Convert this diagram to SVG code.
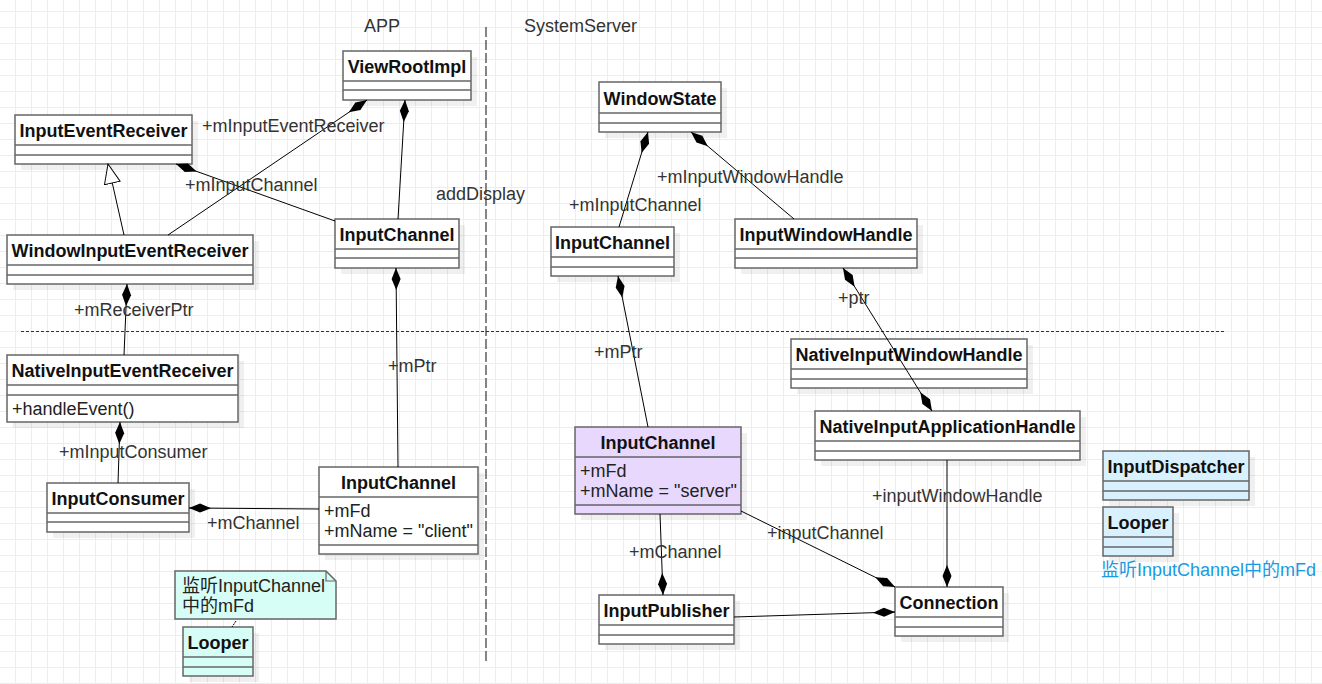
<svg xmlns="http://www.w3.org/2000/svg" width="1322" height="684" viewBox="0 0 1322 684">
<defs>
<pattern id="grid" patternUnits="userSpaceOnUse" x="15" y="11" width="16" height="16">
<path d="M0,0.5 H16 M0.5,0 V16" fill="none" stroke="#ededed" stroke-width="1"/>
</pattern>
<marker id="dia" markerUnits="userSpaceOnUse" markerWidth="24" markerHeight="12" refX="22" refY="5" orient="auto-start-reverse" viewBox="0 0 24 12">
<path d="M0,5 L11,0.5 L22,5 L11,9.5 Z" fill="#000"/>
</marker>
<marker id="tri" markerUnits="userSpaceOnUse" markerWidth="22" markerHeight="18" refX="20" refY="8.5" orient="auto" viewBox="0 0 22 18">
<path d="M0.5,0.5 L20,8.5 L0.5,16.5 Z" fill="#fff" stroke="#000" stroke-width="1"/>
</marker>
</defs>
<style>
.box{fill:#fff;stroke:#666;stroke-width:1.5}
.sep{stroke:#666;stroke-width:1.5}
.sh{fill:#000;opacity:.06}
.t{font-family:"Liberation Sans",Arial,sans-serif;font-size:18px;font-weight:bold;fill:#111;text-anchor:middle}
.a{font-family:"Liberation Sans",Arial,sans-serif;font-size:18px;fill:#222}
.l{font-family:"Liberation Sans",Arial,sans-serif;font-size:18px;fill:#333}
.cn{fill:none;stroke:#000;stroke-width:1}
.cy{fill:#d6fdf6}
.bl{fill:#d9f0fe}
.pu{fill:#e8d8fd}
.cjk{font-family:"Liberation Sans","Noto Sans CJK SC",sans-serif;font-size:18px}
</style>
<rect width="1322" height="684" fill="#fff"/>
<rect width="1322" height="684" fill="url(#grid)"/>

<!-- separators -->
<line x1="486" y1="27" x2="486" y2="664" stroke="#444" stroke-width="1.3" stroke-dasharray="10 3"/>
<line x1="21" y1="331.5" x2="1224" y2="331.5" stroke="#333" stroke-width="1" stroke-dasharray="3 2"/>
<text class="l" x="364" y="32">APP</text>
<text class="l" x="524" y="32">SystemServer</text>
<text class="l" x="436" y="200">addDisplay</text>

<!-- nodes -->
<g id="ViewRootImpl">
<rect class="sh" x="349" y="57" width="128" height="49"/>
<rect class="box" x="343" y="51" width="128" height="49"/>
<line class="sep" x1="343" y1="81" x2="471" y2="81"/><line class="sep" x1="343" y1="90" x2="471" y2="90"/>
<text class="t" x="407" y="73">ViewRootImpl</text>
</g>
<g id="InputEventReceiver">
<rect class="sh" x="21" y="121" width="177" height="49"/>
<rect class="box" x="15" y="115" width="177" height="49"/>
<line class="sep" x1="15" y1="145" x2="192" y2="145"/><line class="sep" x1="15" y1="155" x2="192" y2="155"/>
<text class="t" x="103.5" y="137">InputEventReceiver</text>
</g>
<g id="WindowInputEventReceiver">
<rect class="sh" x="13" y="241" width="246" height="49"/>
<rect class="box" x="7" y="235" width="246" height="49"/>
<line class="sep" x1="7" y1="265" x2="253" y2="265"/><line class="sep" x1="7" y1="275" x2="253" y2="275"/>
<text class="t" x="130" y="257">WindowInputEventReceiver</text>
</g>
<g id="InputChannelApp">
<rect class="sh" x="341" y="225" width="124" height="49"/>
<rect class="box" x="335" y="219" width="124" height="49"/>
<line class="sep" x1="335" y1="249" x2="459" y2="249"/><line class="sep" x1="335" y1="258" x2="459" y2="258"/>
<text class="t" x="397" y="241">InputChannel</text>
</g>
<g id="NativeInputEventReceiver">
<rect class="sh" x="13" y="361" width="231" height="67"/>
<rect class="box" x="7" y="355" width="231" height="67"/>
<line class="sep" x1="7" y1="385" x2="238" y2="385"/><line class="sep" x1="7" y1="395" x2="238" y2="395"/>
<text class="t" x="122.5" y="377">NativeInputEventReceiver</text>
<text class="a" x="12" y="415">+handleEvent()</text>
</g>
<g id="InputConsumer">
<rect class="sh" x="53" y="489" width="142" height="49"/>
<rect class="box" x="47" y="483" width="142" height="49"/>
<line class="sep" x1="47" y1="513" x2="189" y2="513"/><line class="sep" x1="47" y1="522" x2="189" y2="522"/>
<text class="t" x="118" y="505">InputConsumer</text>
</g>
<g id="InputChannelClient">
<rect class="sh" x="325" y="473" width="159" height="87"/>
<rect class="box" x="319" y="467" width="159" height="87"/>
<line class="sep" x1="319" y1="497" x2="478" y2="497"/><line class="sep" x1="319" y1="545" x2="478" y2="545"/>
<text class="t" x="398.5" y="489">InputChannel</text>
<text class="a" x="324" y="517">+mFd</text>
<text class="a" x="324" y="537">+mName = "client"</text>
</g>
<g id="NoteLooper">
<path d="M175,571 H326 L336,581 V619 H175 Z" class="box cy"/>
<path d="M326,571 V581 H336" fill="none" stroke="#666" stroke-width="1.2"/>
<text class="a cjk" x="182" y="592">监听InputChannel</text>
<text class="a cjk" x="182" y="612">中的mFd</text>
</g>
<g id="LooperApp">
<rect class="sh" x="189" y="633" width="70" height="49"/>
<rect class="box cy" x="183" y="627" width="70" height="49"/>
<line class="sep" x1="183" y1="657" x2="253" y2="657"/><line class="sep" x1="183" y1="667" x2="253" y2="667"/>
<text class="t" x="218" y="649">Looper</text>
</g>
<g id="WindowState">
<rect class="sh" x="605" y="88" width="122" height="50"/>
<rect class="box" x="599" y="82" width="122" height="50"/>
<line class="sep" x1="599" y1="113" x2="721" y2="113"/><line class="sep" x1="599" y1="123" x2="721" y2="123"/>
<text class="t" x="660" y="105">WindowState</text>
</g>
<g id="InputChannelServerTop">
<rect class="sh" x="557" y="233" width="123" height="49"/>
<rect class="box" x="551" y="227" width="123" height="49"/>
<line class="sep" x1="551" y1="257" x2="674" y2="257"/><line class="sep" x1="551" y1="267" x2="674" y2="267"/>
<text class="t" x="612.5" y="249">InputChannel</text>
</g>
<g id="InputWindowHandle">
<rect class="sh" x="741" y="225" width="182" height="49"/>
<rect class="box" x="735" y="219" width="182" height="49"/>
<line class="sep" x1="735" y1="249" x2="917" y2="249"/><line class="sep" x1="735" y1="258" x2="917" y2="258"/>
<text class="t" x="826" y="241">InputWindowHandle</text>
</g>
<g id="NativeInputWindowHandle">
<rect class="sh" x="797" y="345" width="236" height="49"/>
<rect class="box" x="791" y="339" width="236" height="49"/>
<line class="sep" x1="791" y1="369" x2="1027" y2="369"/><line class="sep" x1="791" y1="379" x2="1027" y2="379"/>
<text class="t" x="909" y="361">NativeInputWindowHandle</text>
</g>
<g id="NativeInputApplicationHandle">
<rect class="sh" x="821" y="417" width="265" height="49"/>
<rect class="box" x="815" y="411" width="265" height="49"/>
<line class="sep" x1="815" y1="441" x2="1080" y2="441"/><line class="sep" x1="815" y1="451" x2="1080" y2="451"/>
<text class="t" x="947.5" y="433">NativeInputApplicationHandle</text>
</g>
<g id="InputChannelServer">
<rect class="sh" x="581" y="433" width="166" height="87"/>
<rect class="box pu" x="575" y="427" width="166" height="87"/>
<line class="sep" x1="575" y1="457" x2="741" y2="457"/><line class="sep" x1="575" y1="505" x2="741" y2="505"/>
<text class="t" x="658" y="449">InputChannel</text>
<text class="a" x="580" y="477">+mFd</text>
<text class="a" x="580" y="497">+mName = "server"</text>
</g>
<g id="InputPublisher">
<rect class="sh" x="605" y="601" width="135" height="49"/>
<rect class="box" x="599" y="595" width="135" height="49"/>
<line class="sep" x1="599" y1="625" x2="734" y2="625"/><line class="sep" x1="599" y1="635" x2="734" y2="635"/>
<text class="t" x="666.5" y="617">InputPublisher</text>
</g>
<g id="Connection">
<rect class="sh" x="901" y="593" width="108" height="49"/>
<rect class="box" x="895" y="587" width="108" height="49"/>
<line class="sep" x1="895" y1="617" x2="1003" y2="617"/><line class="sep" x1="895" y1="627" x2="1003" y2="627"/>
<text class="t" x="949" y="609">Connection</text>
</g>
<g id="InputDispatcher">
<rect class="sh" x="1109" y="457" width="146" height="49"/>
<rect class="box bl" x="1103" y="451" width="146" height="49"/>
<line class="sep" x1="1103" y1="481" x2="1249" y2="481"/><line class="sep" x1="1103" y1="491" x2="1249" y2="491"/>
<text class="t" x="1176" y="473">InputDispatcher</text>
</g>
<g id="LooperServer">
<rect class="sh" x="1109" y="513" width="70" height="49"/>
<rect class="box bl" x="1103" y="507" width="70" height="49"/>
<line class="sep" x1="1103" y1="537" x2="1173" y2="537"/><line class="sep" x1="1103" y1="547" x2="1173" y2="547"/>
<text class="t" x="1138" y="529">Looper</text>
<text class="cjk" x="1101" y="576" fill="#1a9ae0">监听InputChannel中的mFd</text>
</g>

<!-- connectors -->
<g id="connectors">
<path class="cn" d="M168,235 L367,100" marker-end="url(#dia)"/>
<path class="cn" d="M398,219 L405,100" marker-end="url(#dia)"/>
<path class="cn" d="M335,221 L176,164" marker-end="url(#dia)"/>
<path class="cn" d="M124,235 L108,164" marker-end="url(#tri)"/>
<path class="cn" d="M124,355 L127,284" marker-end="url(#dia)"/>
<path class="cn" d="M398,467 L396,268" marker-end="url(#dia)"/>
<path class="cn" d="M118,483 L120,422" marker-end="url(#dia)"/>
<path class="cn" d="M319,509 L189,508" marker-end="url(#dia)"/>
<path class="cn" d="M236,621 L232,627" stroke-dasharray="2 1"/>
<path class="cn" d="M619,227 L648,132" marker-end="url(#dia)"/>
<path class="cn" d="M794,219 L691,132" marker-end="url(#dia)"/>
<path class="cn" d="M648,427 L618,276" marker-end="url(#dia)"/>
<path class="cn" d="M843,268 L932,411" marker-start="url(#dia)" marker-end="url(#dia)"/>
<path class="cn" d="M947,460 L947,587" marker-end="url(#dia)"/>
<path class="cn" d="M741,511 L895,587" marker-end="url(#dia)"/>
<path class="cn" d="M660,514 L663,595" marker-end="url(#dia)"/>
<path class="cn" d="M734,617 L895,612" marker-end="url(#dia)"/>
<text class="l" x="202" y="132">+mInputEventReceiver</text>
<text class="l" x="185" y="191">+mInputChannel</text>
<text class="l" x="74" y="316">+mReceiverPtr</text>
<text class="l" x="388" y="372">+mPtr</text>
<text class="l" x="59" y="458">+mInputConsumer</text>
<text class="l" x="207" y="529">+mChannel</text>
<text class="l" x="657" y="183">+mInputWindowHandle</text>
<text class="l" x="569" y="211">+mInputChannel</text>
<text class="l" x="838" y="304">+ptr</text>
<text class="l" x="594" y="358">+mPtr</text>
<text class="l" x="872" y="502">+inputWindowHandle</text>
<text class="l" x="767" y="539">+inputChannel</text>
<text class="l" x="629" y="558">+mChannel</text>
</g>
</svg>
